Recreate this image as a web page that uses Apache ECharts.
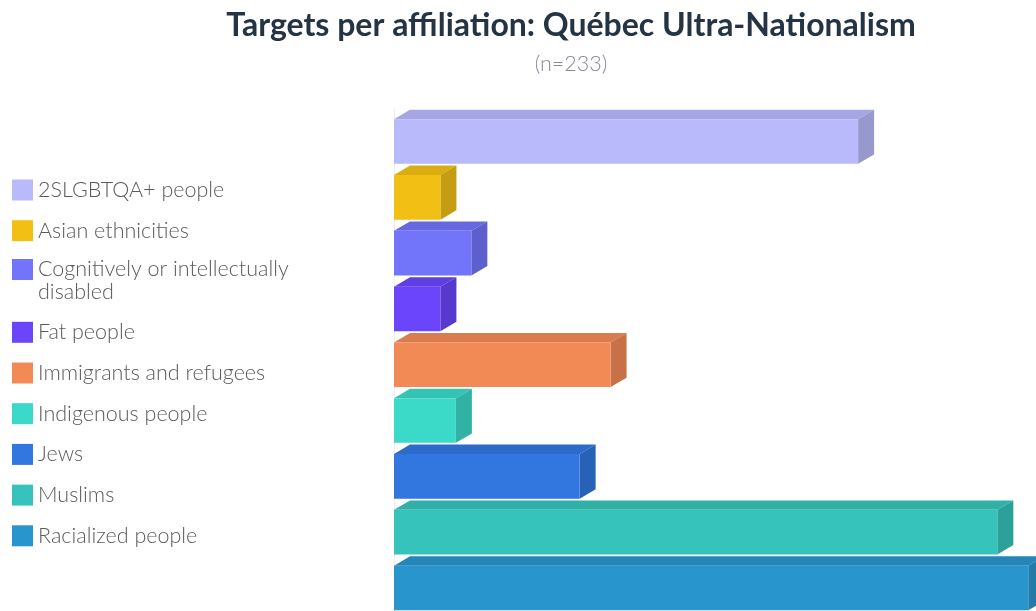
<!DOCTYPE html>
<html>
<head>
<meta charset="utf-8">
<script src="https://cdn.jsdelivr.net/npm/echarts@6/dist/echarts.min.js"></script>
<style>
html,body{margin:0;padding:0;background:#fff;}
#chart{width:1036px;height:611px;}
</style>
</head>
<body>
<div id="chart"></div>
<script>
const categories = [
  '2SLGBTQA+ people',
  'Asian ethnicities',
  'Cognitively or intellectually disabled',
  'Fat people',
  'Immigrants and refugees',
  'Indigenous people',
  'Jews',
  'Muslims',
  'Racialized people'
];
const values = [30, 3, 5, 3, 14, 4, 12, 39, 41];
const colors = ['#B8BAFB', '#F2C014', '#7274F9', '#6A45FB', '#F28A56', '#3BD9C8', '#3177DF', '#36C3BB', '#2895CC'];
const titleText = 'Targets per affiliation: Québec Ultra-Nationalism';
const subText = '(n=233)';

function shade(hex, f) {
  const n = parseInt(hex.slice(1), 16);
  const r = Math.round(((n >> 16) & 255) * f);
  const g = Math.round(((n >> 8) & 255) * f);
  const b = Math.round((n & 255) * f);
  return 'rgb(' + r + ',' + g + ',' + b + ')';
}

function makeRender(color) {
  return function (params, api) {
    const v = api.value(0), idx = api.value(1);
    const p0 = api.coord([0, idx]);
    const p1 = api.coord([v, idx]);
    const band = api.size([0, 1])[1];
    const bandTop = p0[1] - band / 2;
    const frontTop = bandTop + band * 0.187;
    const frontBot = frontTop + band * 0.8;
    const dy = band * 0.169, dx = 16;
    const x0 = p0[0], x1 = p1[0];
    return {
      type: 'group',
      children: [
        { type: 'polygon', shape: { points: [[x0, frontTop], [x1, frontTop], [x1 + dx, frontTop - dy], [x0 + dx, frontTop - dy]] }, style: { fill: shade(color, 0.9) } },
        { type: 'polygon', shape: { points: [[x1, frontTop], [x1 + dx, frontTop - dy], [x1 + dx, frontBot - dy], [x1, frontBot]] }, style: { fill: shade(color, 0.82) } },
        { type: 'rect', shape: { x: x0, y: frontTop, width: x1 - x0, height: frontBot - frontTop }, style: { fill: color } }
      ]
    };
  };
}

const series = categories.map(function (c, i) {
  return {
    type: 'custom',
    name: c,
    color: colors[i],
    renderItem: makeRender(colors[i]),
    encode: { x: 0, y: 1 },
    data: [[values[i], i]]
  };
});

const legendText = { fontFamily: 'Lato', fontWeight: 300, fontSize: 21.5, lineHeight: 23, color: '#5a5a5a' };
const legendBase = {
  orient: 'vertical', left: 12, padding: 0, itemWidth: 21, itemHeight: 21, itemGap: 17.7,
  icon: 'rect', itemStyle: { borderWidth: 0 }, textStyle: legendText
};

const chart = echarts.init(document.getElementById('chart'), null, { renderer: 'canvas' });
chart.setOption({
  backgroundColor: '#fff',
  animation: false,
  title: {
    text: titleText,
    subtext: subText,
    left: 571,
    textAlign: 'center',
    top: 10,
    padding: 0,
    itemGap: 11,
    textStyle: { fontFamily: 'Lato', fontWeight: 'bold', fontSize: 32, color: '#243445' },
    subtextStyle: { fontFamily: 'Lato', fontWeight: 300, fontSize: 21.5, color: '#868a99' }
  },
  legend: [
    Object.assign({}, legendBase, { top: 178.5, data: categories.slice(0, 2) }),
    Object.assign({}, legendBase, {
      top: 257.5, itemHeight: 44,
      icon: 'path://M0,0 L21,0 M0,0.5 L21,0.5 L21,21.5 L0,21.5 Z M0,44 L21,44',
      data: categories.slice(2, 3),
      formatter: function () { return 'Cognitively or intellectually\ndisabled'; }
    }),
    Object.assign({}, legendBase, { top: 320.8, data: categories.slice(3) })
  ],
  grid: { left: 394, right: 0, top: 108.8, height: 506.7 },
  xAxis: { type: 'value', min: 0, max: 41.5, show: false },
  yAxis: {
    type: 'category', inverse: true, data: categories,
    axisLine: { show: true, lineStyle: { color: '#eeeeee' } },
    axisTick: { show: false }, axisLabel: { show: false }, splitLine: { show: false }
  },
  series: series
});
</script>
</body>
</html>
